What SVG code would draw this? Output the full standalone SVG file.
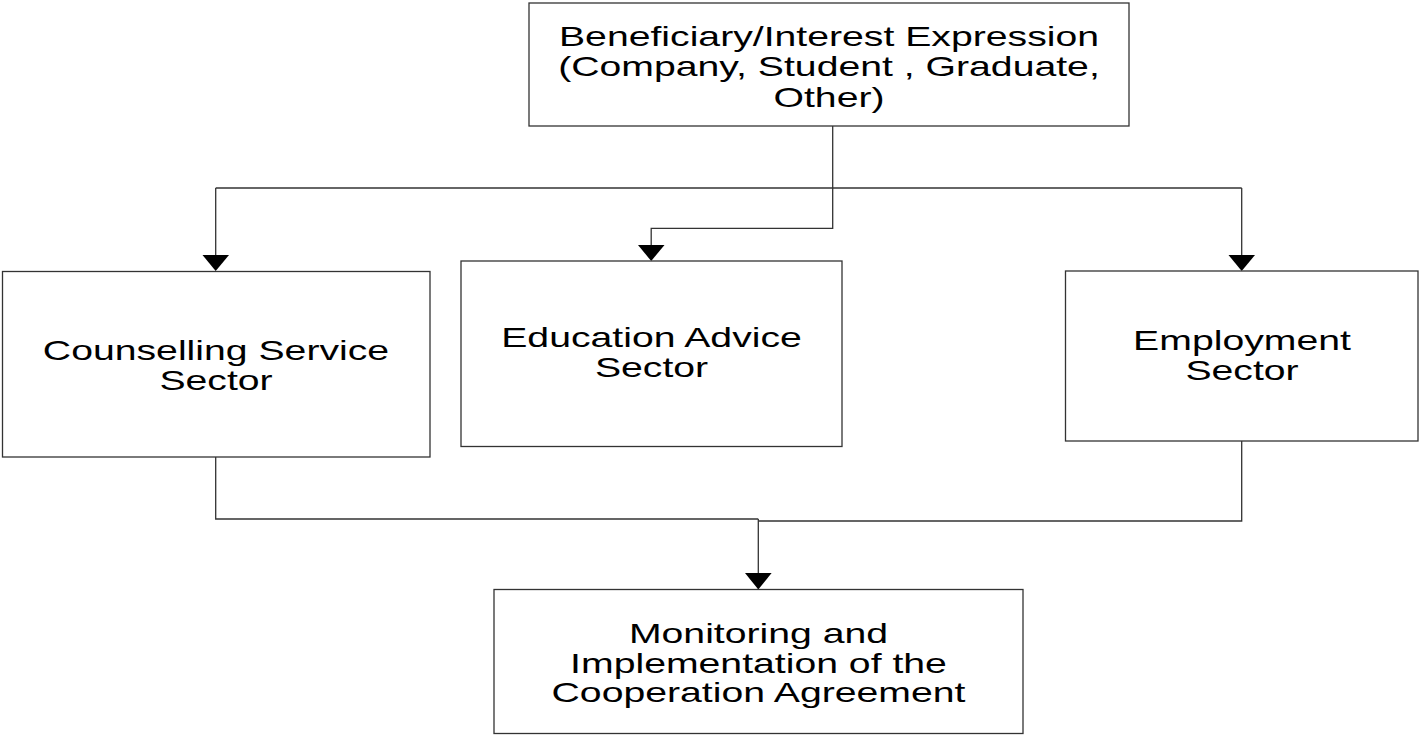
<svg xmlns="http://www.w3.org/2000/svg" width="1420" height="736" viewBox="0 0 1420 736">
  <style>
    .box { fill: #ffffff; stroke: #333333; stroke-width: 1.3; }
    .wire { fill: none; stroke: #333333; stroke-width: 1.3; }
    .head { fill: #000000; }
    .lbl { font-family: "Liberation Sans", Arial, sans-serif; font-size: 28px; fill: #000000; text-anchor: middle; }
  </style>
  <rect width="1420" height="736" fill="#ffffff"/>

  <!-- connectors: elbow routes with filled triangular heads -->
  <g id="connectors">
    <path class="wire" d="M832.7,126 V188"/>
    <path class="wire" d="M215.7,188 H1241.7"/>
    <path class="wire" d="M215.7,188 V255"/>
    <polygon class="head" points="202.5,255 229,255 215.7,271"/>
    <path class="wire" d="M1241.7,188 V255"/>
    <polygon class="head" points="1228.5,255 1255,255 1241.7,271"/>
    <path class="wire" d="M832.7,188 V228.3 H651.2 V245"/>
    <polygon class="head" points="638,245 664.5,245 651.2,261"/>
    <path class="wire" d="M215.7,457 V519 H758.3"/>
    <path class="wire" d="M1241.7,441 V521 H758.3"/>
    <path class="wire" d="M758.3,519 V573"/>
    <polygon class="head" points="745,573 771.6,573 758.3,589.5"/>
  </g>

  <g id="beneficiary">
    <rect class="box" x="529" y="3" width="600" height="123"/>
    <text class="lbl" transform="matrix(1.4 0 0 1 829 0)" x="0" y="46">Beneficiary/Interest Expression</text>
    <text class="lbl" transform="matrix(1.4 0 0 1 829 0)" x="0" y="76.5">(Company, Student , Graduate,</text>
    <text class="lbl" transform="matrix(1.4 0 0 1 829 0)" x="0" y="107">Other)</text>
  </g>

  <g id="counselling">
    <rect class="box" x="2.5" y="271.5" width="427.5" height="185.5"/>
    <text class="lbl" transform="matrix(1.4 0 0 1 216 0)" x="0" y="360">Counselling Service</text>
    <text class="lbl" transform="matrix(1.4 0 0 1 216 0)" x="0" y="390">Sector</text>
  </g>

  <g id="education">
    <rect class="box" x="461" y="261" width="381" height="185.5"/>
    <text class="lbl" transform="matrix(1.4 0 0 1 651.5 0)" x="0" y="347.5">Education Advice</text>
    <text class="lbl" transform="matrix(1.4 0 0 1 651.5 0)" x="0" y="377">Sector</text>
  </g>

  <g id="employment">
    <rect class="box" x="1065.5" y="271" width="352.5" height="170"/>
    <text class="lbl" transform="matrix(1.4 0 0 1 1242 0)" x="0" y="350.5">Employment</text>
    <text class="lbl" transform="matrix(1.4 0 0 1 1242 0)" x="0" y="380">Sector</text>
  </g>

  <g id="monitoring">
    <rect class="box" x="494" y="589.5" width="529" height="144"/>
    <text class="lbl" transform="matrix(1.4 0 0 1 758.5 0)" x="0" y="643.5">Monitoring and</text>
    <text class="lbl" transform="matrix(1.4 0 0 1 758.5 0)" x="0" y="673">Implementation of the</text>
    <text class="lbl" transform="matrix(1.4 0 0 1 758.5 0)" x="0" y="702.5">Cooperation Agreement</text>
  </g>
</svg>
